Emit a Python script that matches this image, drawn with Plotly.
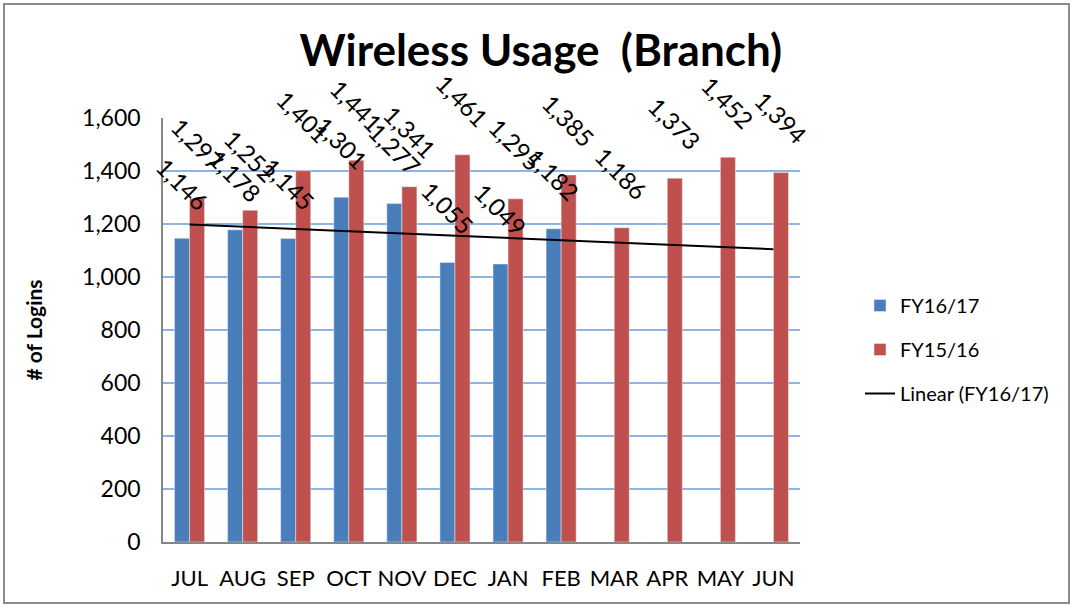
import plotly.graph_objects as go

months = ["JUL", "AUG", "SEP", "OCT", "NOV", "DEC", "JAN", "FEB", "MAR", "APR", "MAY", "JUN"]
fy1617 = [1146, 1178, 1145, 1301, 1277, 1055, 1049, 1182]
fy1516 = [1297, 1252, 1401, 1441, 1341, 1461, 1295, 1385, 1186, 1373, 1452, 1394]
# linear trend of FY16/17 as drawn (value at JUL and at JUN)
trend_ends = [1198, 1105]

FONT = "Lato, sans-serif"
BLUE = "#4A7EBB"
RED = "#C0504D"
W = 0.283

W_PX, H_PX = 1073, 607
L, R, T, B = 163, 273, 118, 65
pw = W_PX - L - R
ph = H_PX - T - B

fig = go.Figure()
xs = list(range(len(months)))
fig.add_trace(go.Bar(x=xs[:len(fy1617)], y=fy1617, name="FY16/17", marker_color=BLUE,
                     width=W, offset=-W, legendgroup="a"))
fig.add_trace(go.Bar(x=xs, y=fy1516, name="FY15/16", marker_color=RED,
                     width=W, offset=0, legendgroup="b"))
fig.add_trace(go.Scatter(x=[xs[0], xs[-1]], y=trend_ends, mode="lines", name="Linear (FY16/17)",
                         line=dict(color="black", width=2), legendgroup="c"))

ann = []
for i, v in enumerate(fy1617):
    ann.append(dict(x=i - W / 2, y=v, text=f"{v:,}", showarrow=False, textangle=45,
                    xanchor="center", yanchor="bottom", yshift=20,
                    font=dict(family=FONT, size=24, color="black")))
for i, v in enumerate(fy1516):
    ann.append(dict(x=i + W / 2, y=v, text=f"{v:,}", showarrow=False, textangle=45,
                    xanchor="center", yanchor="bottom", yshift=20,
                    font=dict(family=FONT, size=24, color="black")))

fig.update_layout(
    width=W_PX, height=H_PX,
    margin=dict(l=L, r=R, t=T, b=B, autoexpand=False),
    paper_bgcolor="white", plot_bgcolor="white",
    font=dict(family=FONT, color="black"),
    title=dict(text="<b>Wireless Usage  (Branch)</b>", x=0.504, xanchor="center",
               y=1 - 51 / H_PX, yanchor="middle", font=dict(size=44, family=FONT)),
    barmode="overlay",
    showlegend=True,
    legend=dict(x=(860 - L) / pw, y=(T + ph - 286) / ph, xanchor="left", yanchor="top",
                font=dict(size=20, family=FONT), tracegroupgap=15, bgcolor="rgba(0,0,0,0)"),
    annotations=ann,
    shapes=[dict(type="rect", xref="paper", yref="paper",
                 x0=(4 - L) / pw, x1=(1069 - L) / pw,
                 y0=(T + ph - 603) / ph, y1=(T + ph - 4) / ph,
                 line=dict(color="#8C8C8C", width=2), layer="below")],
)
fig.update_xaxes(range=[-0.5, 11.5], tickvals=xs, ticktext=months, showgrid=False,
                 showline=True, linecolor="#868686", linewidth=1.5, ticks="",
                 tickfont=dict(size=22, family=FONT), ticklabelstandoff=16, zeroline=False,
                 automargin=False)
fig.update_yaxes(range=[0, 1600], tickvals=list(range(0, 1601, 200)), tickformat=",",
                 showgrid=True, gridcolor="#8EB4E3", gridwidth=1.5,
                 showline=True, linecolor="#868686", linewidth=1.5, ticks="",
                 tickfont=dict(size=23, family=FONT), ticklabelstandoff=16, zeroline=False,
                 automargin=False,
                 title=dict(text="<b># of Logins</b>", font=dict(size=21, family=FONT), standoff=34))

fig.write_html("out.html", config={"displayModeBar": False},
               post_script="document.body.style.margin='0';")
